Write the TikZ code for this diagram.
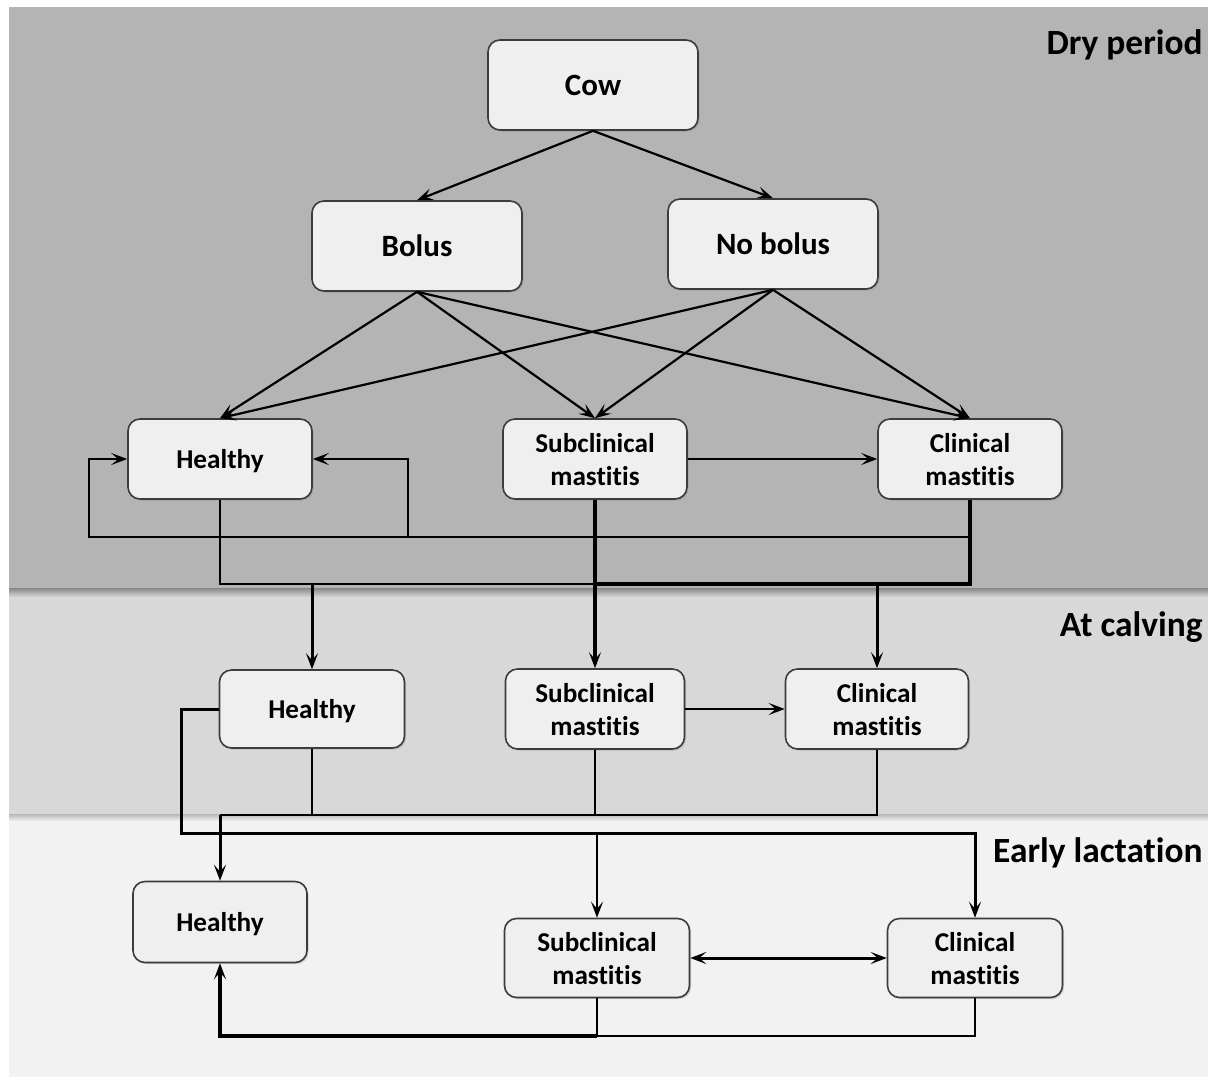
\documentclass[tikz,border=0pt]{standalone}
\usepackage{fontspec}
\setmainfont{Carlito}[Ligatures={TeX,NoCommon}]
\usetikzlibrary{arrows.meta,shadows,calc}
\definecolor{bandA}{HTML}{B4B4B4}
\definecolor{bandB}{HTML}{D8D8D8}
\definecolor{bandC}{HTML}{F2F2F2}
\definecolor{boxfill}{HTML}{EFEFEF}
\definecolor{boxdraw}{HTML}{3C3C3C}
\begin{document}
\begin{tikzpicture}[x=0.5pt,y=-0.5pt,
  box/.style={draw=boxdraw, line width=0.8pt, fill=boxfill, rounded corners=6pt,
    align=center, inner sep=0pt, text=black, text depth=0pt,
    font=\bfseries\fontsize{13.6}{16.5}\selectfont,
    drop shadow={opacity=0.3, shadow xshift=0.8pt, shadow yshift=-0.8pt}},
  bigbox/.style={box, font=\bfseries\fontsize{15.5}{18}\selectfont,
    minimum width=105pt, minimum height=45pt},
  smallbox/.style={box, minimum width=92pt, minimum height=40pt},
  bandlabel/.style={font=\bfseries\fontsize{17.7}{20}\selectfont, anchor=east, inner sep=0pt},
  link/.style={line width=1.1pt, draw=black},
  midlink/.style={line width=1.5pt, draw=black},
  heavylink/.style={line width=2pt, draw=black},
  arr/.style={-{Stealth[length=8pt,width=6pt,inset=3.5pt]}},
  darr/.style={{Stealth[length=8pt,width=6pt,inset=3.5pt]}-{Stealth[length=8pt,width=6pt,inset=3.5pt]}},
]
\useasboundingbox (0,0) rectangle (1208,1077);
\fill[white] (0,0) rectangle (1208,1077);
% bands
\fill[bandA] (9,7) rectangle (1208,590);
\fill[bandB] (9,590) rectangle (1208,816);
\fill[bandC] (9,816) rectangle (1208,1077);
\shade[top color=bandA!75!black, bottom color=bandB] (9,588) rectangle (1208,597);
\shade[top color=bandB!85!black, bottom color=bandC] (9,814) rectangle (1208,821);

\node[bandlabel] (lab1) at (1203,45) {Dry period};
\node[bandlabel] (lab2) at (1203,627) {At calving};
\node[bandlabel] (lab3) at (1203,853) {Early lactation};

% nodes
\node[bigbox] (cow) at (593,85) {Cow};
\node[bigbox] (bol) at (417,246) {Bolus};
\node[bigbox] (nob) at (773,244) {No bolus};

\node[smallbox] (dH) at (220,459) {Healthy};
\node[smallbox] (dS) at (595,459) {Subclinical\\mastitis};
\node[smallbox] (dC) at (970,459) {Clinical\\mastitis};

\node[smallbox, minimum width=92.5pt, minimum height=39pt] (cH) at (312,709) {Healthy};
\node[smallbox, minimum width=89.5pt] (cS) at (595,709) {Subclinical\\mastitis};
\node[smallbox, minimum width=91.5pt] (cC) at (877,709) {Clinical\\mastitis};

\node[smallbox, minimum width=87pt, minimum height=40.5pt] (eH) at (220,922) {Healthy};
\node[smallbox, minimum width=92.5pt, minimum height=39.5pt] (eS) at (597,958) {Subclinical\\mastitis};
\node[smallbox, minimum width=87.5pt, minimum height=39.5pt] (eC) at (975,958) {Clinical\\mastitis};

% helper rows
\coordinate (row1) at (0,537);
\coordinate (bus1) at (0,584);
\coordinate (bus2) at (0,815);
\coordinate (bus3) at (0,833);
\coordinate (bus4) at (0,1036);

% dry period
\draw[link,arr] (cow.south) -- (bol.north);
\draw[link,arr] (cow.south) -- (nob.north);
\draw[link,arr] (bol.south) -- (dH.north);
\draw[link,arr] (bol.south) -- (dS.north);
\draw[link,arr] (bol.south) -- (dC.north);
\draw[link,arr] (nob.south) -- (dH.north);
\draw[link,arr] (nob.south) -- (dS.north);
\draw[link,arr] (nob.south) -- (dC.north);
\draw[link,arr] (dS.east) -- (dC.west);

\draw[link,arr] (dC.south) |- ($(dH.west |- row1)+(-38,0)$) |- (dH.west);
\draw[link,arr] (dS.south) |- ($(dH.east |- row1)+(95,0)$) |- (dH.east);

% into calving
\draw[link] (dH.south) |- (dS.south |- bus1);
\draw[heavylink] (dS.south |- bus1) -| (dC.south);
\draw[heavylink,arr] (dS.south) -- (cS.north);
\draw[midlink,arr] (cH.north |- bus1) -- (cH.north);
\draw[midlink,arr] (cC.north |- bus1) -- (cC.north);

% calving
\draw[link,arr] (cS.east) -- (cC.west);
\draw[link] (cC.south) |- (eH.north |- bus2);
\draw[link] (cH.south) -- (cH.south |- bus2);
\draw[link] (cS.south) -- (cS.south |- bus2);
\draw[midlink,arr] (eH.north |- bus2) -- (eH.north);
\draw[midlink,arr] (cH.west) -- ++(-37,0) |- (eC.north |- bus3) -- (eC.north);
\draw[link,arr] (eS.north |- bus3) -- (eS.north);

% early lactation
\draw[midlink,darr] (eS.east) -- (eC.west);
\draw[link] (eC.south) |- (eS.south |- bus4);
\draw[link] (eS.south) -- (eS.south |- bus4);
\draw[heavylink,arr] (eS.south |- bus4) -| (eH.south);
\end{tikzpicture}
\end{document}
